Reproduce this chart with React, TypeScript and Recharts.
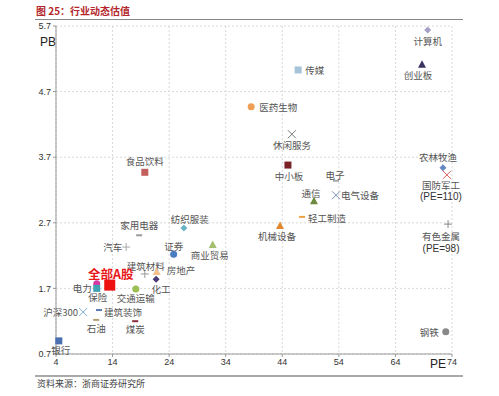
import { ScatterChart, Scatter, XAxis, YAxis, CartesianGrid } from 'recharts';

// industry name, PE (x), PB (y)
const industries = [
  '计算机', '创业板', '传媒', '医药生物', '休闲服务', '食品饮料', '中小板', '电子',
  '通信', '电气设备', '轻工制造', '机械设备', '农林牧渔', '国防军工', '有色金属', '钢铁',
  '纺织服装', '家用电器', '汽车', '证券', '商业贸易', '建筑材料', '房地产', '化工',
  '全部A股', '电力', '保险', '交通运输', '沪深300', '建筑装饰', '石油', '煤炭', '银行',
];
const peValues = [
  69.7, 68.7, 46.8, 38.5, 45.7, 19.7, 45.0, 53.5,
  49.6, 53.5, 47.5, 43.6, 72.4, 73.1, 73.3, 72.9,
  26.6, 18.7, 16.4, 24.8, 31.7, 19.7, 21.8, 21.7,
  13.5, 11.2, 11.2, 18.1, 8.8, 11.6, 11.1, 18.0, 4.5,
];
const pbValues = [
  5.64, 5.11, 5.03, 4.47, 4.05, 3.47, 3.58, 3.34,
  3.03, 3.12, 2.79, 2.65, 3.54, 3.43, 2.68, 1.04,
  2.62, 2.51, 2.33, 2.22, 2.36, 1.92, 1.95, 1.84,
  1.75, 1.77, 1.70, 1.69, 1.34, 1.37, 1.22, 1.20, 0.90,
];
// second label line for clipped points
const notes: Record<string, string> = {
  国防军工: '(PE=110)',
  有色金属: '(PE=98)',
};
const xTicks = [4, 14, 24, 34, 44, 54, 64, 74];
const yTicks = [0.7, 1.7, 2.7, 3.7, 4.7, 5.7];

type Kind = 'circle' | 'square' | 'diamond' | 'triangle' | 'x' | 'plus' | 'dash';

const markerStyle: Record<string, [Kind, string]> = {
  计算机: ['diamond', '#a79fc6'],
  创业板: ['triangle', '#3b3463'],
  传媒: ['square', '#a7c3d8'],
  医药生物: ['circle', '#ef9f55'],
  休闲服务: ['x', '#777777'],
  食品饮料: ['square', '#c4605c'],
  中小板: ['square', '#7b2226'],
  电子: ['dash', '#aaaaaa'],
  通信: ['triangle', '#6b8a3c'],
  电气设备: ['x', '#7a8fb3'],
  轻工制造: ['dash', '#f0a040'],
  机械设备: ['triangle', '#e0882e'],
  农林牧渔: ['diamond', '#6688c0'],
  国防军工: ['x', '#e06060'],
  有色金属: ['plus', '#888888'],
  钢铁: ['circle', '#888888'],
  纺织服装: ['diamond', '#6ab2c8'],
  家用电器: ['dash', '#999999'],
  汽车: ['plus', '#aaaaaa'],
  证券: ['circle', '#4a7cc0'],
  商业贸易: ['triangle', '#a3c070'],
  建筑材料: ['plus', '#999999'],
  房地产: ['triangle', '#f5bf8e'],
  化工: ['diamond', '#4a3a7a'],
  全部A股: ['square', '#ee1111'],
  电力: ['circle', '#d43aa6'],
  保险: ['square', '#3fa3b3'],
  交通运输: ['circle', '#9bbf52'],
  沪深300: ['x', '#80b0d0'],
  建筑装饰: ['dash', '#5a7ab0'],
  石油: ['dash', '#b0a070'],
  煤炭: ['dash', '#8a2a3a'],
  银行: ['square', '#4a70b0'],
};

// label offset from marker: dx, dy, anchor
const labelPlace: Record<string, [number, number, 'start' | 'middle' | 'end']> = {
  计算机: [0, 11, 'middle'],
  创业板: [-4, 10, 'middle'],
  传媒: [7, 0, 'start'],
  医药生物: [8, 0, 'start'],
  休闲服务: [0, 11, 'middle'],
  食品饮料: [0, -11, 'middle'],
  中小板: [1, 11, 'middle'],
  电子: [-1, -6, 'middle'],
  通信: [-3, -8, 'middle'],
  电气设备: [5, 0, 'start'],
  轻工制造: [6, 1, 'start'],
  机械设备: [-3, 10, 'middle'],
  农林牧渔: [-5, -11, 'middle'],
  国防军工: [-6, 10, 'middle'],
  有色金属: [-7, 12, 'middle'],
  钢铁: [-7, 0, 'end'],
  纺织服装: [6, -9, 'middle'],
  家用电器: [0, -10, 'middle'],
  汽车: [-4, 0, 'end'],
  证券: [0, -8, 'middle'],
  商业贸易: [-3, 10, 'middle'],
  建筑材料: [1, -8, 'middle'],
  房地产: [10, -2, 'start'],
  化工: [5, 10, 'middle'],
  全部A股: [1, -12, 'middle'],
  电力: [-5, 4, 'end'],
  保险: [1, 9, 'middle'],
  交通运输: [0, 9, 'middle'],
  沪深300: [-5, 0, 'end'],
  建筑装饰: [5, 2, 'start'],
  石油: [0, 8, 'middle'],
  煤炭: [0, 8, 'middle'],
  银行: [2, 9, 'middle'],
};

const data = industries.map((name, i) => ({ name, pe: peValues[i], pb: pbValues[i] }));

const font = '"Noto Sans CJK SC", "Noto Sans", sans-serif';
const latin = "'Liberation Sans', Arial, sans-serif";

function Marker({ kind, color, x, y, big }: { kind: Kind; color: string; x: number; y: number; big: boolean }) {
  const s = big ? 5.5 : 3.5;
  switch (kind) {
    case 'circle':
      return <circle cx={x} cy={y} r={s} fill={color} />;
    case 'square':
      return <rect x={x - s} y={y - s} width={s * 2} height={s * 2} fill={color} />;
    case 'diamond':
      return <polygon points={`${x},${y - s} ${x + s},${y} ${x},${y + s} ${x - s},${y}`} fill={color} />;
    case 'triangle':
      return <polygon points={`${x},${y - 4.5} ${x + 4},${y + 3} ${x - 4},${y + 3}`} fill={color} />;
    case 'x':
      return (
        <g stroke={color} strokeWidth={1}>
          <line x1={x - 4} y1={y - 4} x2={x + 4} y2={y + 4} />
          <line x1={x - 4} y1={y + 4} x2={x + 4} y2={y - 4} />
        </g>
      );
    case 'plus':
      return (
        <g stroke={color} strokeWidth={1}>
          <line x1={x - 4} y1={y} x2={x + 4} y2={y} />
          <line x1={x} y1={y - 4} x2={x} y2={y + 4} />
        </g>
      );
    default:
      return <line x1={x - 3} y1={y} x2={x + 3} y2={y} stroke={color} strokeWidth={2} />;
  }
}

function PointShape(props: any) {
  const { cx, cy, payload } = props;
  const name: string = payload.name;
  const [kind, color] = markerStyle[name];
  const [dx, dy, anchor] = labelPlace[name];
  const big = name === '全部A股';
  const note = notes[name];
  return (
    <g>
      <Marker kind={kind} color={color} x={cx} y={cy} big={big} />
      <text
        x={cx + dx}
        y={cy + dy}
        textAnchor={anchor}
        dominantBaseline="central"
        fontFamily={font}
        fontSize={big ? 12.5 : 9.5}
        fontWeight={big ? 700 : 400}
        fill={big ? '#e81818' : '#555'}
      >
        {name}
      </text>
      {note && (
        <text
          x={cx + dx}
          y={cy + dy + 12}
          textAnchor="middle"
          dominantBaseline="central"
          fontFamily={latin}
          fontSize={10}
          fill="#333"
        >
          {note}
        </text>
      )}
    </g>
  );
}

export default function App() {
  const tick = { fontSize: 9, fill: '#333', fontFamily: latin };
  return (
    <div style={{ position: 'absolute', left: 0, top: 0, width: 499, height: 396, background: '#fff' }}>
      <div
        style={{
          position: 'absolute', left: 36, top: 4, fontFamily: font, fontSize: 10,
          fontWeight: 700, color: '#b3262b', lineHeight: '14px',
        }}
      >
        图 25：行业动态估值
      </div>
      <div style={{ position: 'absolute', left: 35, top: 19, width: 428, height: 1, background: '#888' }} />
      <div style={{ position: 'absolute', left: 40, top: 35, fontFamily: latin, fontSize: 12, color: '#222' }}>
        PB
      </div>
      <div style={{ position: 'absolute', left: 430, top: 357, fontFamily: latin, fontSize: 12, color: '#222' }}>
        PE
      </div>
      <ScatterChart width={499} height={396} margin={{ top: 26, right: 47, bottom: 0, left: 36 }}>
        <CartesianGrid stroke="#d8d8d8" strokeDasharray="2 2" />
        <XAxis
          type="number"
          dataKey="pe"
          domain={[4, 74]}
          ticks={xTicks}
          height={42}
          tick={tick}
          tickSize={3}
          axisLine={{ stroke: '#999' }}
          tickLine={{ stroke: '#999' }}
        />
        <YAxis
          type="number"
          dataKey="pb"
          domain={[0.7, 5.7]}
          ticks={yTicks}
          width={20}
          tick={tick}
          tickSize={3}
          axisLine={{ stroke: '#999' }}
          tickLine={{ stroke: '#999' }}
        />
        <Scatter data={data} shape={PointShape} isAnimationActive={false} />
      </ScatterChart>
      <div style={{ position: 'absolute', left: 35, top: 375, width: 428, height: 2, background: '#aaa' }} />
      <div
        style={{
          position: 'absolute', left: 37, top: 378, fontFamily: font, fontSize: 9,
          color: '#444', lineHeight: '12px',
        }}
      >
        资料来源：浙商证券研究所
      </div>
    </div>
  );
}
